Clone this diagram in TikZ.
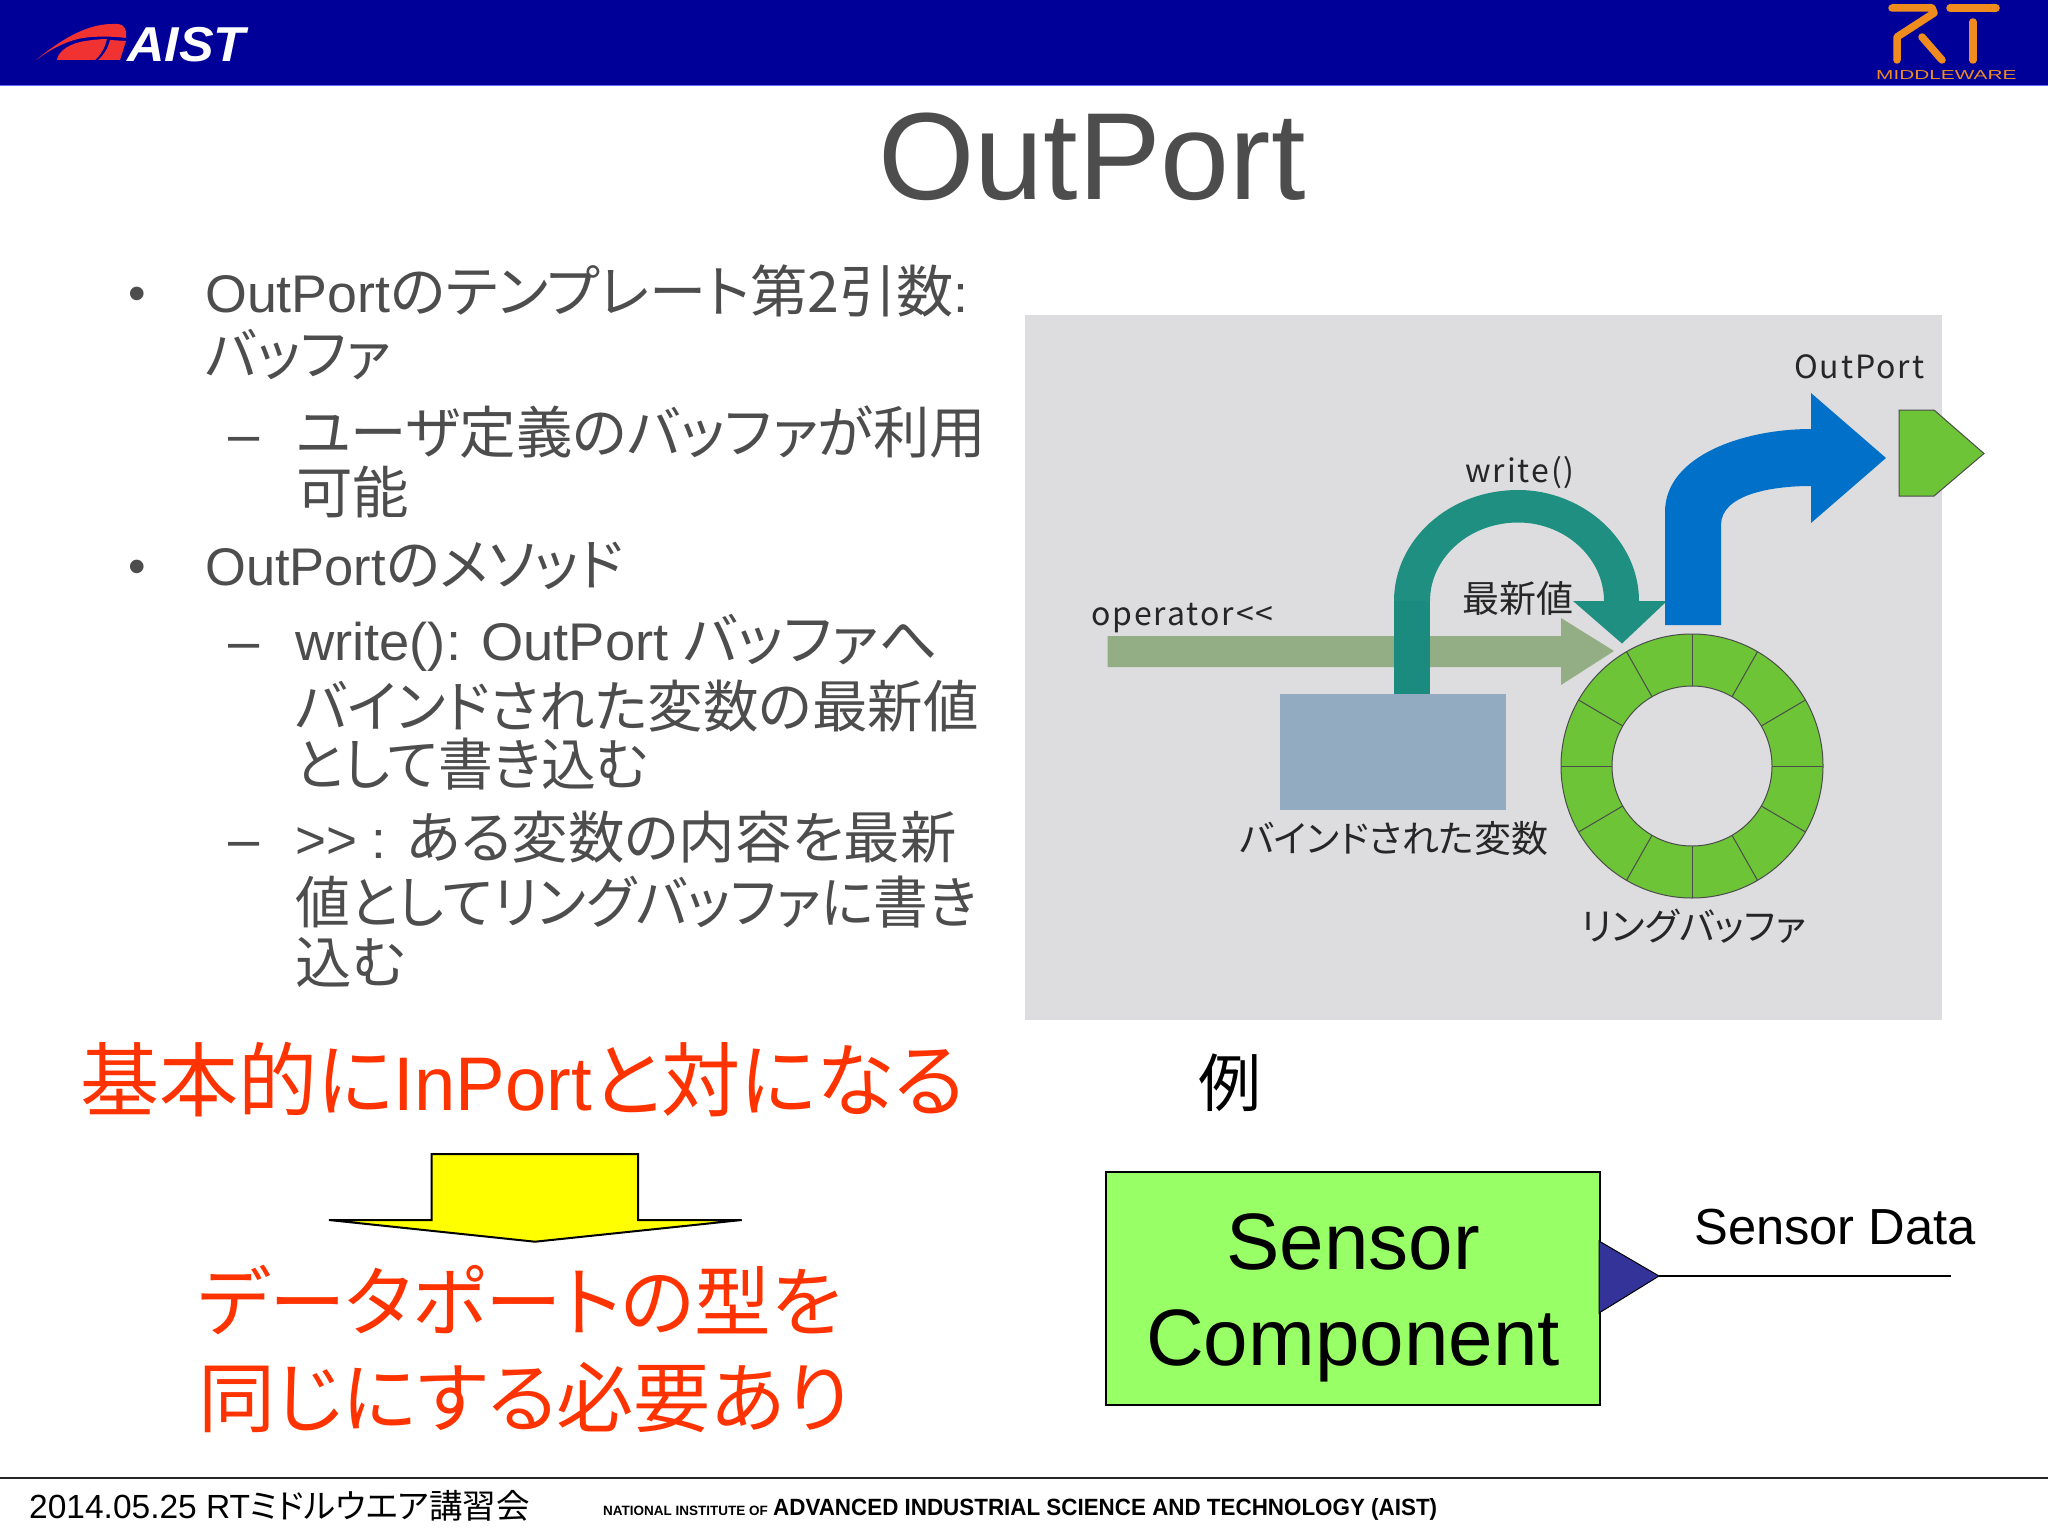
\documentclass[tikz,border=0pt]{standalone}
\usepackage{fontspec}
\setmainfont{Liberation Sans}
\newfontfamily\J[RawFeature=+palt,Scale=1.065]{Noto Sans CJK JP}
\newfontfamily\Jn[RawFeature=+palt]{Noto Sans CJK JP}
\newfontfamily\lab[LetterSpace=6]{Noto Sans CJK JP}
\definecolor{hdr}{RGB}{0,0,153}
\definecolor{body}{RGB}{77,77,77}
\definecolor{redtxt}{RGB}{255,51,0}
\definecolor{panel}{RGB}{221,221,223}
\definecolor{port}{RGB}{108,196,54}
\definecolor{blueA}{RGB}{0,112,200}
\definecolor{tealA}{RGB}{30,143,128}
\definecolor{tealB}{RGB}{27,139,128}
\definecolor{sageA}{RGB}{147,173,132}
\definecolor{boxA}{RGB}{146,171,192}
\definecolor{orangeA}{RGB}{240,140,30}
\definecolor{redA}{RGB}{240,50,50}
\definecolor{sensor}{RGB}{153,255,102}
\definecolor{portB}{RGB}{51,51,153}
\definecolor{yelA}{RGB}{255,255,0}
\tikzset{
  fs/.style={font=\fontsize{#1}{#1}\selectfont},
  txt/.style={inner sep=0pt,anchor=base west,text=body},
  lbl/.style={inner sep=0pt,anchor=base west,text=black!85},
  red/.style={inner sep=0pt,anchor=base west,text=redtxt},
}
\begin{document}
\begin{tikzpicture}[x=1pt,y=-1pt]
\useasboundingbox (0,0) rectangle (2048,1536);
\fill[white] (0,0) rectangle (2048,1536);
% header
\fill[hdr] (0,0) rectangle (2048,85);
\fill[blue!60!white] (0,85) rectangle (2048,86);
% AIST logo
\fill[redA] (36,60) .. controls (58,42) and (85,24) .. (112,24) -- (118,24) .. controls (125,25) and (127,30) .. (126,38) .. controls (112,36) and (90,36) .. (78,39) .. controls (62,43) and (50,50) .. cycle;
\fill[redA] (57,60) .. controls (58,50) and (72,43) .. (85,41) .. controls (92,40) and (100,39) .. (107,39) .. controls (105,48) and (100,56) .. (95,60) -- cycle;
\fill[redA] (110,40) -- (126,41) -- (120,60) -- (98,60) .. controls (104,55) and (108,48) .. cycle;
\node[inner sep=0pt,anchor=base west,text=white,font=\fontsize{49}{49}\selectfont\bfseries\itshape] (aist) at (127,61.5) {\scalebox{1.06}[1]{AIST}};
% RT logo
\draw[orangeA,line width=7.5pt,line cap=round,line join=round] (1892,8) -- (1932,8) -- (1934,13) -- (1897,37) -- (1897,60);
\draw[orangeA,line width=7.5pt,line cap=round] (1922,37) -- (1942,60);
\draw[orangeA,line width=7.5pt,line cap=round] (1950,8) -- (1996,8);
\draw[orangeA,line width=7.5pt,line cap=round] (1973,22) -- (1973,60);
\node[inner sep=0pt,anchor=base west,text=orangeA,font=\fontsize{13}{13}\selectfont] (mw) at (1876,80) {\scalebox{1.6}[1]{MIDDLEWARE}};
% title
\node[inner sep=0pt,anchor=base,text=body,fs=124] (title) at (1092,199) {OutPort};
% body
\node[inner sep=0pt,text=body,fs=50] (b1) at (137,299) {•};
\node[txt,fs=53] (l1) at (205,312) {\scalebox{1.014}[1]{OutPort{\J のテンプレート第2引数}:}};
\node[txt,fs=53] (l2) at (205,375) {\scalebox{.972}[1]{\J バッファ}};
\node[txt,fs=56] (d1) at (228,453) {–};
\node[txt,fs=53] (l3) at (296,453) {\J ユーザ定義のバッファが利用};
\node[txt,fs=53] (l4) at (296,513) {\J 可能};
\node[inner sep=0pt,text=body,fs=50] (b2) at (137,572) {•};
\node[txt,fs=53] (l5) at (205,585) {\scalebox{.99}[1]{OutPort{\J のメソッド}}};
\node[txt,fs=56] (d2) at (228,660) {–};
\node[txt,fs=53] (l6) at (295,660) {\scalebox{1.025}[1]{write(): OutPort {\J バッファへ}}};
\node[txt,fs=53] (l7) at (295,727) {\scalebox{.983}[1]{\J バインドされた変数の最新値}};
\node[txt,fs=53] (l8) at (295,785) {\scalebox{.971}[1]{\J として書き込む}};
\node[txt,fs=56] (d3) at (228,858) {–};
\node[txt,fs=53] (l9) at (295,858) {{>}{>} : {\J ある変数の内容を最新}};
\node[txt,fs=53] (l10) at (295,923) {\scalebox{.97}[1]{\J 値としてリングバッファに書き}};
\node[txt,fs=53] (l11) at (295,983) {\J 込む};
% red
\node[red,fs=76] (r1) at (80,1110) {\scalebox{.977}[1]{{\J 基本的に}InPort{\J と対になる}}};
\node[red,fs=72] (r2) at (198,1330) {\J データポートの型を};
\node[red,fs=72] (r3) at (198,1426) {\scalebox{1.006}[1]{\J 同じにする必要あり}};
% yellow arrow
\draw[fill=yelA,line width=2pt,line join=miter] (431.7,1154) -- (638,1154) -- (638,1220) -- (741.7,1220) -- (535,1241.7) -- (329,1220) -- (431.7,1220) -- cycle;
% panel
\fill[panel] (1025,315) rectangle (1942,1020);
\node[lbl,font=\fontsize{32}{32}\selectfont\lab] (tout) at (1794,378) {OutPort};
\node[lbl,font=\fontsize{32}{32}\selectfont\lab] (twr) at (1465,482) {write()};
\node[lbl,font=\fontsize{32}{32}\selectfont\lab] (top) at (1091,625) {operator<<};
% green port
\draw[fill=port,draw=black!70,line width=1pt] (1899,410) -- (1934,410) -- (1984,453.5) -- (1934,496) -- (1899,496) -- cycle;
% arrows
\fill[sageA] (1107.5,636) -- (1561,636) -- (1561,618) -- (1614,651) -- (1561,685) -- (1561,667) -- (1107.5,667) -- cycle;
\fill[tealA] (1394,601) .. controls (1394,540) and (1449,490) .. (1518,490) .. controls (1583,490) and (1639,540) .. (1639,601) -- (1667,601) -- (1622,643.5) -- (1573,601) -- (1604,601) .. controls (1604,558) and (1565,522.5) .. (1518,522.5) .. controls (1469,522.5) and (1430,558) .. (1430,601) -- cycle;
\fill[tealB] (1394,601) rectangle (1430,694);
\fill[blueA] (1665,625) -- (1665,512) .. controls (1665,455) and (1745,429) .. (1811,429) -- (1811,393) -- (1886,458) -- (1811,523) -- (1811,486) .. controls (1770,486) and (1721,495) .. (1721,525) -- (1721,625) -- cycle;
% bound var
\fill[boxA] (1280,694) rectangle (1506,810);
\node[lbl,fs=37] (tnew) at (1462,612) {\Jn 最新値};
\node[lbl,fs=37] (tvar) at (1239,852) {\Jn バインドされた変数};
\node[lbl,fs=37.5] (tring) at (1581,940) {\Jn リングバッファ};
% ring
\draw[fill=port,draw=black!70,line width=1pt,even odd rule] (1692,766) circle[x radius=131,y radius=132] (1692,766) circle[x radius=80,y radius=80];
\foreach \a in {0,30,...,330}
  \draw[black!70,line width=1pt] ({1692+80*cos(\a)},{766+80*sin(\a)}) -- ({1692+131*cos(\a)},{766+132*sin(\a)});
% example
\node[inner sep=0pt,anchor=base west,text=black,fs=63] (rei) at (1198,1106) {\Jn 例};
\node[draw=black,line width=2pt,fill=sensor,minimum width=494pt,minimum height=233pt,anchor=north west,inner sep=0pt] (comp) at (1104.5,1170.5) {};
\node[inner sep=0pt,anchor=base,text=black,fs=80] (s1) at (1353,1269) {Sensor};
\node[inner sep=0pt,anchor=base,text=black,fs=80] (s2) at (1353,1365) {Component};
\draw[fill=portB,draw=black,line width=1pt] (1599,1241) -- (1659,1276) -- (1599,1313) -- cycle;
\coordinate (tip) at (1659,1276);
\coordinate (lineend) at (1951,1276);
\draw[black,line width=2pt] (tip) -- (lineend);
\node[inner sep=0pt,anchor=base west,text=black,fs=50.7] (sd) at (1694,1244) {Sensor Data};
% footer
\fill[black!85] (0,1477) rectangle (2048,1479);
\node[inner sep=0pt,anchor=base west,text=black,fs=33.5] (f1) at (29,1518) {2014.05.25 RT{\Jn ミドルウエア講習会}};
\node[inner sep=0pt,anchor=base west,text=black,font=\fontsize{13.5}{13.5}\selectfont\bfseries] (f2) at (603,1515) {NATIONAL INSTITUTE OF};
\node[inner sep=0pt,anchor=base west,text=black,font=\fontsize{23.5}{23.5}\selectfont\bfseries] (f3) at (773,1515) {\scalebox{.953}[1]{ADVANCED INDUSTRIAL SCIENCE AND TECHNOLOGY (AIST)}};
\end{tikzpicture}
\end{document}
